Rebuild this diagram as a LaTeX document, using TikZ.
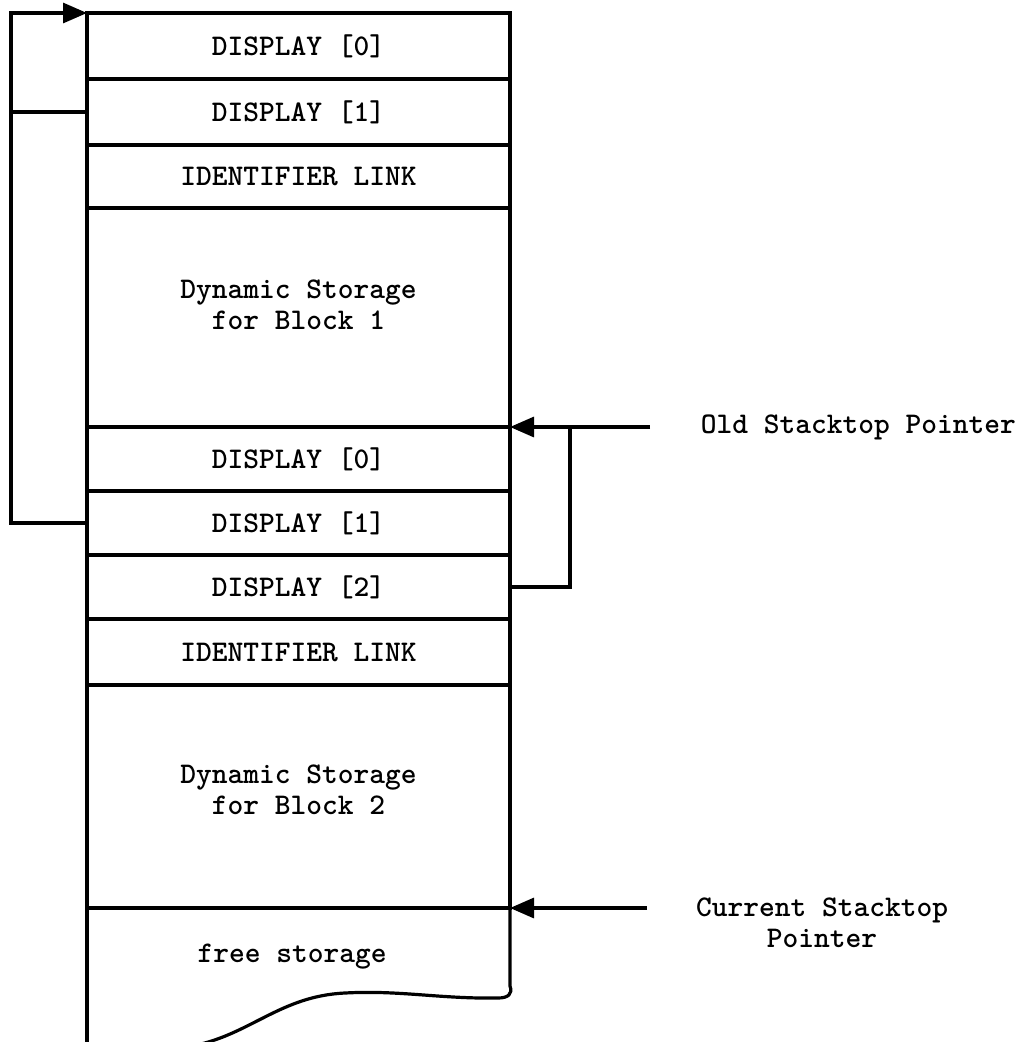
\documentclass[tikz,border=0pt]{standalone}
\usetikzlibrary{positioning,arrows.meta}
\begin{document}
\begin{tikzpicture}[x=1pt,y=-1pt,line width=3.2pt,>={Triangle[length=24pt,width=20pt]},
	cell/.style={draw,outer sep=0pt,inner sep=0pt,minimum width=423pt,
		font=\ttfamily\bfseries\fontsize{30}{31}\selectfont,align=center},
	lbl/.style={font=\ttfamily\bfseries\fontsize{30}{31}\selectfont,align=center}]
	\useasboundingbox (0,0) rectangle (1025,1042);
	\node[cell,minimum height=66pt,anchor=north west] (dA0) at (87,13) {DISPLAY [0]};
	\node[cell,minimum height=66pt,below=0pt of dA0] (dA1) {DISPLAY [1]};
	\node[cell,minimum height=63pt,below=0pt of dA1] (idA) {IDENTIFIER LINK};
	\node[cell,minimum height=219pt,text depth=26pt,below=0pt of idA] (dynA) {Dynamic Storage\\for Block 1};
	\node[cell,minimum height=64pt,below=0pt of dynA] (dB0) {DISPLAY [0]};
	\node[cell,minimum height=64pt,below=0pt of dB0] (dB1) {DISPLAY [1]};
	\node[cell,minimum height=64pt,below=0pt of dB1] (dB2) {DISPLAY [2]};
	\node[cell,minimum height=66pt,below=0pt of dB2] (idB) {IDENTIFIER LINK};
	\node[cell,minimum height=223pt,text depth=14pt,below=0pt of idB] (dynB) {Dynamic Storage\\for Block 2};
	\node[lbl] (free) at (292,957) {free storage};
	\coordinate (colbot) at (87,1042);
	\draw (dynB.south west) -- (colbot);
	\draw (dynB.south east) -- (510,986) .. controls (513,994) and (508,998) .. (498,998)
	.. controls (440,999) and (400,990) .. (345,993)
	.. controls (280,996) and (250,1035) .. (192,1046);
	\coordinate (lloop) at (11,13);
	\draw[->] (dB1.west) -| (lloop) -- (dA0.north west);
	\draw (dA1.west) -- (dA1.west -| lloop);
	\coordinate (rloop) at (570,427);
	\draw (dB2.east) -| (rloop);
	\coordinate (oldtail) at (650,427);
	\draw[->] (oldtail) -- (dB0.north east);
	\node[lbl,anchor=west] (old) at (696,427) {Old Stacktop Pointer};
	\coordinate (curtail) at (647,908);
	\draw[->] (curtail) -- (dynB.south east);
	\node[lbl] (cur) at (822,923) {Current Stacktop\\Pointer};
\end{tikzpicture}
\end{document}
